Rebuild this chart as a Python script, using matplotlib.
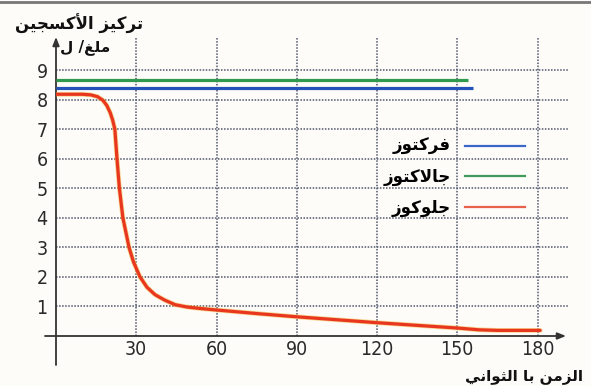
import matplotlib
matplotlib.use('Agg')
import matplotlib.pyplot as plt
from matplotlib.lines import Line2D
import matplotlib.patheffects as pe

# ---------------- data ----------------
time_fructose = [0, 156]
o2_fructose = [8.40, 8.40]
time_galactose = [0, 154]
o2_galactose = [8.66, 8.66]
time_glucose = [0, 10, 13, 15.5, 17.5, 19, 20.3, 21.2, 22, 22.8, 23.7, 25, 27.3, 29, 31.4,
                34, 37, 40.5, 44.5, 49, 54, 60, 75, 90, 105, 120, 135, 150, 158, 165, 181]
o2_glucose = [8.18, 8.18, 8.16, 8.1, 7.98, 7.8, 7.55, 7.3, 7.0, 6.0, 5.0, 4.0, 3.0, 2.5, 2.0,
              1.65, 1.4, 1.22, 1.06, 0.98, 0.93, 0.88, 0.76, 0.65, 0.55, 0.45, 0.36, 0.27,
              0.21, 0.19, 0.19]
x_ticks = [30, 60, 90, 120, 150, 180]
y_ticks = [1, 2, 3, 4, 5, 6, 7, 8, 9]
legend_labels = ['فركتوز', 'جالاكتوز', 'جلوكوز']
y_title = 'تركيز الأكسجين'
y_unit = 'ملغ/ ل'
x_title = 'الزمن با الثواني'

# --------- minimal Arabic shaping (presentation forms + visual order) ---------
FORMS = {
    'ا': ('\uFE8D', '\uFE8E', None, None),
    'أ': ('\uFE83', '\uFE84', None, None),
    'ب': ('\uFE8F', '\uFE90', '\uFE91', '\uFE92'),
    'ت': ('\uFE95', '\uFE96', '\uFE97', '\uFE98'),
    'ث': ('\uFE99', '\uFE9A', '\uFE9B', '\uFE9C'),
    'ج': ('\uFE9D', '\uFE9E', '\uFE9F', '\uFEA0'),
    'ر': ('\uFEAD', '\uFEAE', None, None),
    'ز': ('\uFEAF', '\uFEB0', None, None),
    'س': ('\uFEB1', '\uFEB2', '\uFEB3', '\uFEB4'),
    'غ': ('\uFECD', '\uFECE', '\uFECF', '\uFED0'),
    'ف': ('\uFED1', '\uFED2', '\uFED3', '\uFED4'),
    'ك': ('\uFED9', '\uFEDA', '\uFEDB', '\uFEDC'),
    'ل': ('\uFEDD', '\uFEDE', '\uFEDF', '\uFEE0'),
    'م': ('\uFEE1', '\uFEE2', '\uFEE3', '\uFEE4'),
    'ن': ('\uFEE5', '\uFEE6', '\uFEE7', '\uFEE8'),
    'و': ('\uFEED', '\uFEEE', None, None),
    'ي': ('\uFEF1', '\uFEF2', '\uFEF3', '\uFEF4'),
    'لا': ('\uFEFB', '\uFEFC', None, None),
    'لأ': ('\uFEF7', '\uFEF8', None, None),
}


def shape(s):
    tokens, i = [], 0
    while i < len(s):
        if s[i] == 'ل' and i + 1 < len(s) and s[i + 1] in 'اأ':
            tokens.append(s[i:i + 2]); i += 2
        else:
            tokens.append(s[i]); i += 1
    out = []
    for k, t in enumerate(tokens):
        if t not in FORMS:
            out.append(t); continue
        f = FORMS[t]
        prev = tokens[k - 1] if k > 0 else None
        nxt = tokens[k + 1] if k + 1 < len(tokens) else None
        jp = prev in FORMS and FORMS[prev][2] is not None
        jn = f[2] is not None and nxt in FORMS
        if jp and jn:
            out.append(f[3])
        elif jp:
            out.append(f[1])
        elif jn:
            out.append(f[2])
        else:
            out.append(f[0])
    return ''.join(reversed(out))


# ---------------- figure ----------------
W, H = 591, 386
X0, Y0, XR, YT = 56, 336, 568, 37       # pixel positions of plot frame
PX_X, PX_Y = 2.675, 29.55               # pixels per data unit

fig = plt.figure(figsize=(W / 100, H / 100), dpi=100, facecolor='#fdfcf9')
ax = fig.add_axes([X0 / W, (H - Y0) / H, (XR - X0) / W, (Y0 - YT) / H])
ax.set_facecolor('none')
ax.set_xlim(0, (XR - X0) / PX_X)
ax.set_ylim(0, (Y0 - YT) / PX_Y)
for s in ax.spines.values():
    s.set_visible(False)

ax.set_xticks(x_ticks)
ax.set_yticks(y_ticks)
num_kw = dict(family='DejaVu Sans', stretch='condensed', fontsize=14, color='#2a2a2a')
ax.set_xticklabels([str(v) for v in x_ticks], **num_kw)
ax.set_yticklabels([str(v) for v in y_ticks], **num_kw)
ax.tick_params(axis='x', length=0, pad=3)
ax.tick_params(axis='y', length=0, pad=6)
ax.grid(True, color='#50556a', linestyle=(0, (1, 1)), linewidth=1.1)
ax.set_axisbelow(True)

# axes arrows
xmin_ext = (45 - X0) / PX_X
xmax_ext = (566 - X0) / PX_X
ymin_ext = (Y0 - 365) / PX_Y
ymax_ext = (Y0 - 37) / PX_Y
arrow_kw = dict(arrowstyle='-|>,head_length=0.5,head_width=0.2', color='#333333', lw=1.3,
                shrinkA=0, shrinkB=0)
ax.annotate('', xy=(xmax_ext, 0), xytext=(xmin_ext, 0), arrowprops=arrow_kw,
            annotation_clip=False)
ax.annotate('', xy=(0, ymax_ext), xytext=(0, ymin_ext), arrowprops=arrow_kw,
            annotation_clip=False)

# data lines
ax.plot(time_galactose, o2_galactose, color='#2f9a4e', lw=2.3, solid_capstyle='butt', zorder=3)
ax.plot(time_fructose, o2_fructose, color='#2352b8', lw=2.3, solid_capstyle='butt', zorder=3)
ax.plot(time_glucose, o2_glucose, color='#e8361f', lw=2.3, solid_capstyle='round',
        solid_joinstyle='round', zorder=4,
        path_effects=[pe.Stroke(linewidth=3.4, foreground='#f2b43a', alpha=0.55), pe.Normal()])

# legend (text left, line right)
handles = [Line2D([], [], color='#3b68c8', lw=1.6),
           Line2D([], [], color='#3f9a5c', lw=1.6),
           Line2D([], [], color='#e8604a', lw=1.6)]
leg = fig.legend(handles, [shape(t) for t in legend_labels], loc='center right',
                 bbox_to_anchor=(525 / W, 1 - 177 / H), frameon=False, markerfirst=False,
                 prop=dict(family='DejaVu Sans', weight='bold', size=12),
                 handlelength=3.6, handletextpad=0.85, labelspacing=0.75,
                 borderpad=0, borderaxespad=0)

# axis titles
fig.text(143 / W, 1 - 24 / H, shape(y_title), ha='right', va='center',
         family='DejaVu Sans', weight='bold', fontsize=12, color='#111111')
fig.text(110 / W, 1 - 47 / H, shape(y_unit), ha='right', va='center',
         family='DejaVu Sans', weight='bold', fontsize=11, color='#111111')
fig.text(583 / W, 1 - 377 / H, shape(x_title), ha='right', va='center',
         family='DejaVu Sans', weight='bold', fontsize=11, color='#111111')

# scan border at top
fig.add_artist(Line2D([0, 1], [1 - 2 / H, 1 - 2 / H], transform=fig.transFigure,
                      color='#777777', lw=2))

fig.savefig('out.png', dpi=100, facecolor=fig.get_facecolor())
